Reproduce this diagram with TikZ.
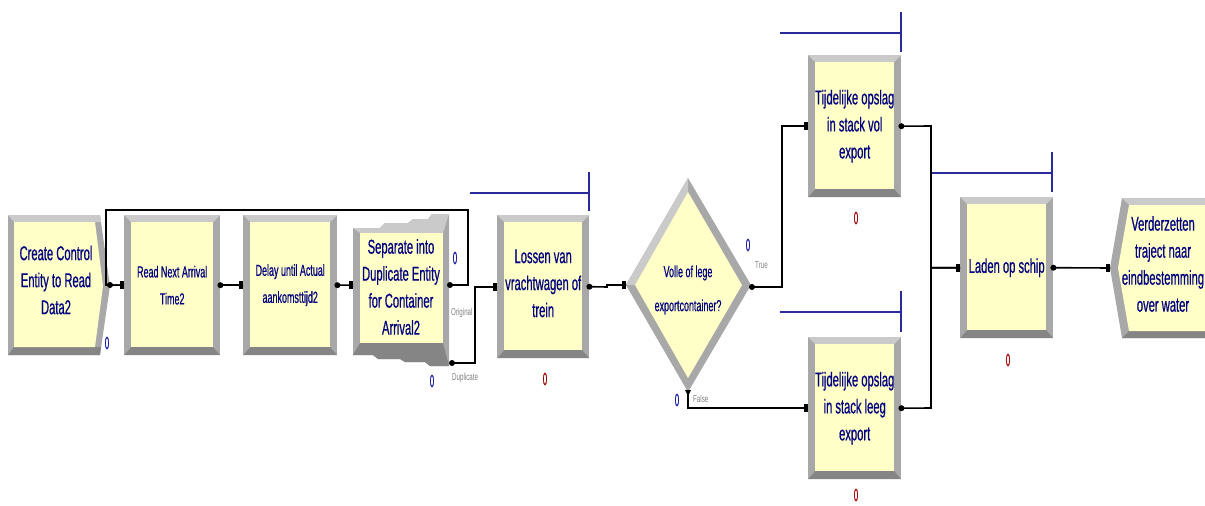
\documentclass[tikz,border=0pt]{standalone}
\usepackage{fontspec}
\setmainfont{Liberation Sans}
\newfontfamily\narrowf[FakeStretch=0.56,FakeBold=0.6]{Liberation Sans}
\newfontfamily\cntf[FakeStretch=0.42,FakeBold=0.6]{Liberation Sans}
\newfontfamily\lblf[FakeStretch=0.62]{Liberation Sans}
\definecolor{boxyellow}{HTML}{FFFFC8}
\definecolor{bandmid}{HTML}{A8A8A8}
\definecolor{bandlight}{HTML}{CACACA}
\definecolor{banddark}{HTML}{858585}
\definecolor{textnavy}{HTML}{000080}
\definecolor{queueblue}{HTML}{2A2A9C}
\definecolor{countred}{HTML}{A00000}
\definecolor{countblue}{HTML}{1A1AA0}
\newcommand\mybigtext{\narrowf\fontsize{20pt}{27pt}\selectfont}
\newcommand\mysmalltext[1]{\narrowf\fontsize{16pt}{#1}\selectfont}
\tikzset{
  module/.style={rectangle, inner sep=0pt, anchor=north west, fill=bandmid,
    text=textnavy, align=center, font=\mybigtext,
    path picture={
      \fill[bandlight] (path picture bounding box.north west) -- (path picture bounding box.north east)
        -- ([xshift=-7pt,yshift=-7pt]path picture bounding box.north east)
        -- ([xshift=7pt,yshift=-7pt]path picture bounding box.north west) -- cycle;
      \fill[banddark] (path picture bounding box.south west) -- (path picture bounding box.south east)
        -- ([xshift=-7pt,yshift=8pt]path picture bounding box.south east)
        -- ([xshift=7pt,yshift=8pt]path picture bounding box.south west) -- cycle;
      \fill[boxyellow] ([xshift=7pt,yshift=-7pt]path picture bounding box.north west)
        rectangle ([xshift=-7pt,yshift=8pt]path picture bounding box.south east);
    }},
  shapetext/.style={inner sep=0pt, text=textnavy, align=center, font=\mybigtext},
  conn/.style={draw=black, line width=1.6pt},
  queue/.style={draw=queueblue, line width=1.6pt},
  redcount/.style={text=countred, font=\cntf\fontsize{18pt}{18pt}\selectfont, inner sep=0pt},
  bluecount/.style={text=countblue, font=\cntf\fontsize{18pt}{18pt}\selectfont, inner sep=0pt},
  portlbl/.style={text=gray, font=\lblf\fontsize{10pt}{10pt}\selectfont, inner sep=0pt},
}
\newcommand\inport[1]{\fill[black] (#1) ++(-4,-4) rectangle ++(4,8);}
\newcommand\outport[1]{\fill[black] (#1) circle[radius=3pt];}
\begin{document}
\begin{tikzpicture}[x=1pt,y=-1pt]
\useasboundingbox (0,0) rectangle (1205,506);
\fill[white] (0,0) rectangle (1205,506);

% queue indicators
\draw[queue] (470,193) -- (589,193); \draw[queue] (589,172) -- (589,211);
\draw[queue] (780,33) -- (901,33);   \draw[queue] (901,12) -- (901,52);
\draw[queue] (780,312) -- (901,312); \draw[queue] (901,291) -- (901,332);
\draw[queue] (932,173) -- (1052,173); \draw[queue] (1052,152) -- (1052,192);

% Create module
\fill[bandmid] (8,215) -- (100,215) -- (110,286) -- (100,355) -- (8,355) -- cycle;
\fill[bandlight] (8,215) -- (100,215) -- (101,222) -- (14,222) -- cycle;
\fill[banddark] (8,355) -- (100,355) -- (101,347) -- (14,347) -- cycle;
\fill[boxyellow] (14,222) -- (95,222) -- (103,286) -- (95,347) -- (14,347) -- cycle;
\node[shapetext] (create) at (56,280) {Create Control\\Entity to Read\\Data2};
\coordinate (createOut) at (110,285);

% Rectangular modules
\node[module, minimum width=96pt, minimum height=140pt] (read) at (124,215)
  {\mysmalltext{35pt}Read Next Arrival\\\mysmalltext{35pt}Time2};
\node[module, minimum width=94pt, minimum height=140pt] (delay) at (243,215)
  {\mysmalltext{30pt}Delay until Actual\\\mysmalltext{30pt}aankomsttijd2};
\node[module, minimum width=92pt, minimum height=143pt] (lossen) at (497,215)
  {Lossen van\\vrachtwagen of\\trein\\[-20pt]};
\node[module, minimum width=93pt, minimum height=142pt] (vol) at (808,55)
  {Tijdelijke opslag\\in stack vol\\export};
\node[module, minimum width=93pt, minimum height=142pt] (leeg) at (808,337)
  {Tijdelijke opslag\\in stack leeg\\export};
\node[module, minimum width=93pt, minimum height=141pt] (laden) at (960,197)
  {Laden op schip};

% Separate module
\fill[bandmid] (353,228) -- (380,228) -- (385,223) -- (408,223) -- (413,219) -- (428,219) -- (432,214)
  -- (449,214) -- (449,366) -- (430,366) -- (425,362) -- (405,362) -- (400,359) -- (378,359)
  -- (373,355) -- (353,355) -- cycle;
\fill[bandlight] (353,228) -- (380,228) -- (385,223) -- (408,223) -- (413,219) -- (428,219) -- (432,214)
  -- (449,214) -- (443,233) -- (360,233) -- cycle;
\fill[banddark] (360,343) -- (443,343) -- (449,366) -- (430,366) -- (425,362) -- (405,362) -- (400,359)
  -- (378,359) -- (373,355) -- (353,355) -- cycle;
\fill[boxyellow] (360,233) rectangle (443,343);
\node[shapetext] (sep) at (401,287) {Separate into\\Duplicate Entity\\for Container\\Arrival2};
\coordinate (sepIn) at (353,285);
\coordinate (sepOrig) at (450,285);
\coordinate (sepDup) at (452,363);

% Decide module
\fill[bandmid] (626,285) -- (688,178) -- (751,285) -- (688,392) -- cycle;
\fill[bandlight] (626,285) -- (688,178) -- (688,192) -- (635,285) -- cycle;
\fill[boxyellow] (635,285) -- (688,192) -- (742,285) -- (688,378) -- cycle;
\node[shapetext, font=\mysmalltext{34pt}] (dec) at (688,290) {Volle of lege\\exportcontainer?};
\coordinate (decIn) at (626,285);
\coordinate (decTrue) at (752,287);
\coordinate (decFalse) at (688,393);

% Dispose module
\fill[bandmid] (1122,198) -- (1206,198) -- (1206,338) -- (1122,338) -- (1110,268) -- cycle;
\fill[bandlight] (1122,198) -- (1206,198) -- (1206,205) -- (1129,205) -- cycle;
\fill[banddark] (1122,338) -- (1206,338) -- (1206,331) -- (1129,331) -- cycle;
\fill[boxyellow] (1129,205) -- (1206,205) -- (1206,331) -- (1129,331) -- (1118,268) -- cycle;
\node[shapetext] (disp) at (1163,264) {Verderzetten\\traject naar\\eindbestemming\\over water};
\coordinate (dispIn) at (1110,268);

% Connectors
\draw[conn] (createOut) -- (read.west);
\draw[conn] (read.east) -- (delay.west);
\draw[conn] (delay.east) -- (sepIn);
\draw[conn] (sepOrig) -- (468,285) -- (468,210) -- (106,210) -- (106,285) -- (read.west);
\draw[conn] (sepDup) -- (475,363) |- (lossen.west);
\draw[conn] (lossen.east) -- (607,287) -- (607,285) -- (decIn);
\draw[conn] (decTrue) -- (782,287) |- (vol.west);
\draw[conn] (decFalse) |- (leeg.west);
\draw[conn] (vol.east) -- (931,126) |- (laden.west);
\draw[conn] (leeg.east) -- (931,408) |- (laden.west);
\draw[conn] (laden.east) -- (dispIn);

% Ports
\outport{createOut} \inport{read.west}
\outport{read.east} \inport{delay.west}
\outport{delay.east} \inport{sepIn}
\outport{sepOrig} \outport{sepDup}
\inport{lossen.west} \outport{lossen.east}
\inport{decIn} \outport{decTrue}
\fill[black] (decFalse) ++(-3,-3) -- ++(6,0) -- ++(-3,6) -- cycle;
\inport{vol.west} \outport{vol.east}
\inport{leeg.west} \outport{leeg.east}
\inport{laden.west} \outport{laden.east}
\inport{dispIn}

% Port labels
\node[portlbl, anchor=west] (lorig) at (451,313) {Original};
\node[portlbl, anchor=west] (ldup) at (452,378) {Duplicate};
\node[portlbl, anchor=west] (ltrue) at (755,265) {True};
\node[portlbl, anchor=west] (lfalse) at (693,399) {False};

% Counters
\node[bluecount] (c1) at (107,343) {0};
\node[bluecount] (c2) at (455,258) {0};
\node[bluecount] (c3) at (432,381) {0};
\node[bluecount] (c4) at (748,245) {0};
\node[bluecount] (c5) at (677,400) {0};
\node[redcount] (c6) at (545,379) {0};
\node[redcount] (c7) at (856,218) {0};
\node[redcount] (c8) at (856,495) {0};
\node[redcount] (c9) at (1008,360) {0};
\end{tikzpicture}
\end{document}
